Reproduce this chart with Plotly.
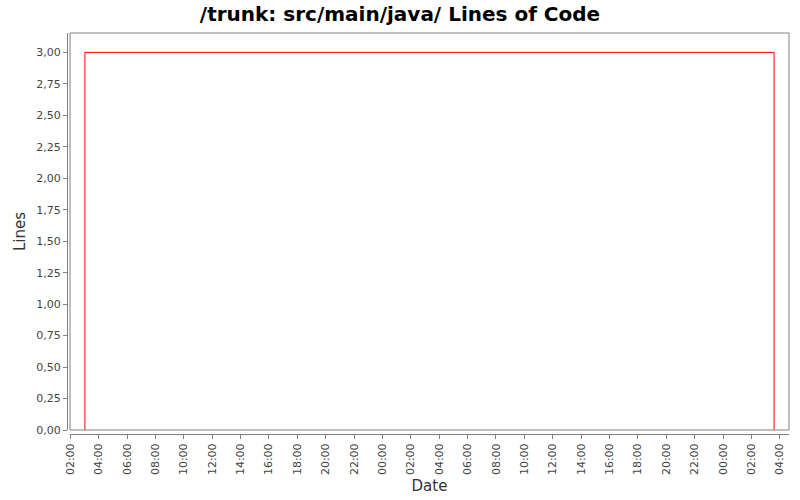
import plotly.graph_objects as go

# Data
dates = ["2009-01-01 03:02", "2009-01-01 03:02", "2009-01-03 03:36", "2009-01-03 03:36"]
lines = [0, 3, 3, 0]

title_text = "/trunk: src/main/java/ Lines of Code"
x_title = "Date"
y_title = "Lines"
y_ticks = [0, 0.25, 0.5, 0.75, 1.0, 1.25, 1.5, 1.75, 2.0, 2.25, 2.5, 2.75, 3.0]

W, H = 800, 500
ml, mr, mt, mb = 67, 11, 33, 66
pw = W - ml - mr
ph = H - mt - mb

fig = go.Figure()
fig.add_trace(go.Scatter(
    x=dates, y=lines, mode="lines",
    line=dict(color="#ff0000", width=1),
    hoverinfo="skip", showlegend=False,
))

axis_font = dict(family="DejaVu Sans", size=11, color="#444444")

fig.update_layout(
    width=W, height=H,
    margin=dict(l=ml, r=mr, t=mt, b=mb, autoexpand=False),
    paper_bgcolor="white", plot_bgcolor="white",
    separators=",.",
    title=dict(text="<b>" + title_text + "</b>", x=0.5, xanchor="center",
               y=1 - 14 / H, yanchor="middle",
               font=dict(family="DejaVu Sans", size=20, color="#000000")),
    xaxis=dict(
        domain=[3 / pw, 1],
        anchor="free", position=0,
        automargin=False,
        type="date",
        range=["2009-01-01 01:59", "2009-01-03 04:39"],
        dtick=2 * 3600 * 1000,
        tick0="2009-01-01 00:00",
        tickformat="%H:%M",
        tickangle=-90,
        ticks="outside", ticklen=4, tickcolor="#808080",
        showline=True, linecolor="#808080", linewidth=1,
        showgrid=False, zeroline=False,
        tickfont=axis_font,
        title=dict(text=x_title, font=dict(family="DejaVu Sans", size=15, color="#333333"), standoff=6),
    ),
    yaxis=dict(
        domain=[4 / ph, 1],
        anchor="free", position=0,
        automargin=False,
        range=[0, 3.154],
        tickvals=y_ticks,
        tickformat=".2f",
        ticks="outside", ticklen=4, tickcolor="#808080",
        showline=True, linecolor="#808080", linewidth=1,
        showgrid=False, zeroline=False,
        tickfont=axis_font,
        title=dict(text=y_title, font=dict(family="DejaVu Sans", size=15, color="#333333"), standoff=6),
    ),
    shapes=[dict(type="rect", xref="x domain", yref="y domain",
                 x0=0, x1=1, y0=0, y1=1,
                 line=dict(color="#808080", width=1), layer="above")],
)

fig.write_html("out.html", config={"displayModeBar": False},
               post_script="document.body.style.margin='0';")
